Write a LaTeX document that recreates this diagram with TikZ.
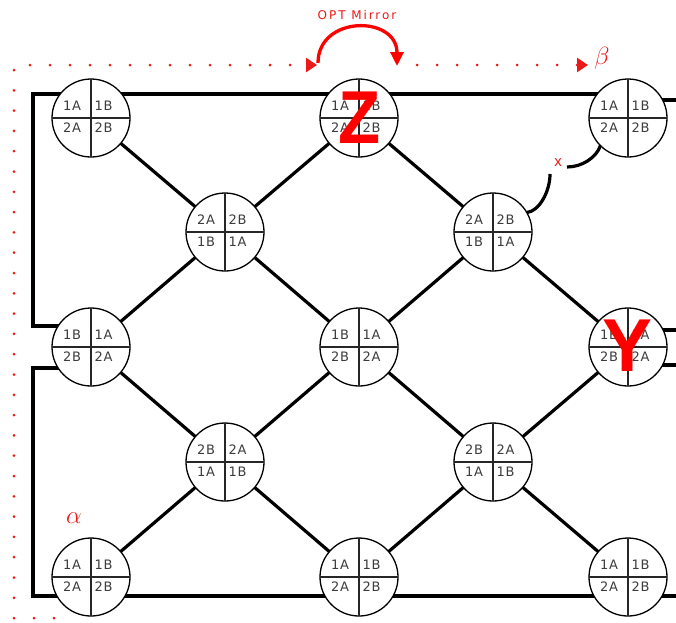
\documentclass[tikz,border=0pt]{standalone}
\usepackage{fontspec}
\setmainfont{Liberation Sans}
\newfontfamily\portfont[LetterSpace=6]{DejaVu Sans}
\newfontfamily\notefont[LetterSpace=16]{DejaVu Sans}
\usetikzlibrary{arrows.meta,backgrounds,calc}

\definecolor{markred}{RGB}{235,25,25}
\definecolor{portgray}{RGB}{60,60,60}

\tikzset{
  ring/.style={circle, draw=black, fill=white, line width=1.3pt,
    minimum size=78pt, inner sep=0pt, outer sep=0pt},
  divider/.style={draw=black!85, line width=1.4pt},
  port/.style={font=\portfont\fontsize{13}{13}\selectfont, text=portgray, inner sep=0pt},
  link/.style={draw=black, line width=3.2pt, line join=miter},
  guide/.style={draw=markred, line width=3pt, line cap=round, dash pattern=on 0pt off 20pt},
  guidetip/.style={-{Triangle[length=11pt,width=14pt]}},
  mirror/.style={draw=red, line width=3.3pt, -{Triangle[length=14pt,width=13pt]}},
  note/.style={text=markred, inner sep=0pt},
  bigmark/.style={text=red, inner sep=0pt, font=\bfseries\fontsize{75}{75}\selectfont},
}

% a ring with its four port quadrants: name, position, upper-left, upper-right, lower-left, lower-right
\newcommand\portring[6]{%
  \node[ring] (#1) at (#2) {};
  \draw[divider] (#1.north) -- (#1.south) (#1.west) -- (#1.east);
  \node[port] (#1-ul) at ($(#1)+(-19,-12)$) {#3};
  \node[port] (#1-ur) at ($(#1)+(12.5,-12)$) {#4};
  \node[port] (#1-ll) at ($(#1)+(-19,9.5)$) {#5};
  \node[port] (#1-lr) at ($(#1)+(12.5,9.5)$) {#6};
}

\begin{document}
\begin{tikzpicture}[x=1pt,y=-1pt]
\useasboundingbox (0,0) rectangle (676,622);

% rings, row by row
\portring{r1c1}{91,118}{1A}{1B}{2A}{2B}
\portring{r1c3}{359,118}{1A}{1B}{2A}{2B}
\portring{r1c5}{628,118}{1A}{1B}{2A}{2B}
\portring{r2c2}{225,232}{2A}{2B}{1B}{1A}
\portring{r2c4}{493,232}{2A}{2B}{1B}{1A}
\portring{r3c1}{91,347}{1B}{1A}{2B}{2A}
\portring{r3c3}{359,347}{1B}{1A}{2B}{2A}
\portring{r3c5}{628,347}{1B}{1A}{2B}{2A}
\portring{r4c2}{225,462}{2B}{2A}{1A}{1B}
\portring{r4c4}{493,462}{2B}{2A}{1A}{1B}
\portring{r5c1}{91,577}{1A}{1B}{2A}{2B}
\portring{r5c3}{359,577}{1A}{1B}{2A}{2B}
\portring{r5c5}{628,577}{1A}{1B}{2A}{2B}

% cut point between r2c4 and r1c5
\node[note, font=\fontsize{15}{15}\selectfont] (cut) at (558,163) {x};
\coordinate (cutlow) at (550,174);
\coordinate (cuthigh) at (567,167);

\begin{scope}[on background layer]
  % diagonal lattice
  \draw[link] (r1c1) -- (r2c2) -- (r3c3) -- (r4c4) -- (r5c5);
  \draw[link] (r3c1) -- (r2c2) -- (r1c3) -- (r2c4) -- (r3c5);
  \draw[link] (r2c4) -- (r3c3) -- (r4c2) -- (r5c1);
  \draw[link] (r3c1) -- (r4c2) -- (r5c3) -- (r4c4) -- (r3c5);
  % outer rails
  \draw[link] ($(r3c1)+(0,-21)$) -| ($(r1c1)+(-58,-24)$) -- ($(r1c5)+(0,-24)$);
  \draw[link] ($(r1c5)+(0,-18)$) -- ++(48,0);
  \draw[link] ($(r3c1)+(0,21)$) -| ($(r5c1)+(-58,19)$) -- ($(r5c5)+(48,19)$);
  \draw[link] ($(r3c5)+(0,-17)$) -- ++(48,0);
  \draw[link] ($(r3c5)+(0,18)$) -- ++(48,0);
  % broken link through the cut
  \draw[link] (r2c4.30) .. controls +(12,-1) and +(0,18) .. (cutlow);
  \draw[link] (cuthigh) .. controls +(15,0) and +(-4,12) .. (r1c5.225);
\end{scope}

% red guide path
\coordinate (gA) at (30,65);
\coordinate (gB) at (317,65);
\coordinate (gC) at (417,65);
\coordinate (gD) at (588,65);
\coordinate (gE) at (14,70);
\coordinate (gF) at (14,618);
\coordinate (gG) at (74,618);
\draw[guide, guidetip] (gA) -- (gB);
\draw[guide, guidetip] (gC) -- (gD);
\draw[guide, dash pattern=on 0pt off 20.3pt] (gE) -- (gF);
\draw[guide] (gF) -- (gG);

% mirror arc
\coordinate (mirA) at (318,63);
\coordinate (mirB) at (397,66);
\draw[mirror] (mirA) .. controls (318,15) and (397,15) .. (mirB);
\node[note, font=\notefont\fontsize{12}{12}\selectfont] (mirtext) at (357,15) {OPT Mirror};

% greek tags
\node[note, font=\fontsize{27}{27}\selectfont] (beta) at (602,58) {$\beta$};
\node[note, font=\fontsize{26}{26}\selectfont] (alpha) at (74,518) {$\alpha$};

% big letters
\node[bigmark] (zmark) at (360,118) {\scalebox{0.92}[1]{Z}};
\node[bigmark] (ymark) at (628,346) {Y};
\end{tikzpicture}
\end{document}
